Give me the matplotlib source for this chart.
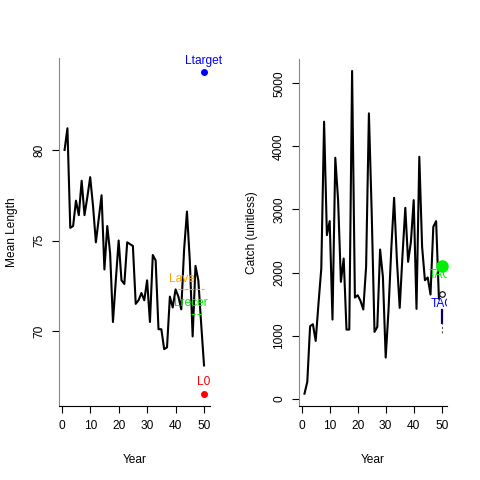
import numpy as np
import matplotlib
matplotlib.use('Agg')
import matplotlib.pyplot as plt

plt.rcParams['font.family'] = ['Liberation Sans', 'DejaVu Sans']

# ---- data ----
years = np.arange(1, 51)
mean_length = [80.0, 81.2, 75.7, 75.8, 77.2, 76.4, 78.3, 76.4, 77.4, 78.5,
               76.9, 74.9, 76.2, 77.5, 73.4, 75.8, 74.3, 70.5, 72.8, 75.0,
               72.8, 72.6, 74.9, 74.8, 74.7, 71.5, 71.7, 72.1, 71.7, 72.8,
               70.5, 74.2, 73.9, 70.1, 70.1, 69.0, 69.1, 71.9, 71.3, 72.3,
               71.9, 71.2, 74.5, 76.6, 73.9, 69.7, 73.6, 72.8, 70.4, 68.1]
ltarget = 84.3
l0 = 66.55
lave = 72.3
lrecer = 70.95

catch_years = np.arange(1, 50)
catch = [79, 265, 1148, 1180, 915, 1508, 2063, 4392, 2593, 2815,
         1254, 3820, 3148, 1852, 2222, 1095, 1095, 5196, 1603, 1640,
         1550, 1413, 2090, 4524, 2947, 1058, 1138, 2365, 1931, 651,
         1402, 2381, 3185, 2196, 1439, 2275, 3026, 2169, 2487, 3148,
         1423, 3836, 2407, 1878, 1921, 1651, 2725, 2815, 1587]
tac_green = 2110
tac_blue = 1660
tac_range = [1040, 1200, 1400]

W = 480
fig = plt.figure(figsize=(4.8, 4.8), dpi=100)
fs = 8.6

def style(ax):
    for s in ['top', 'right']:
        ax.spines[s].set_visible(False)
    ax.spines['left'].set_color('#888888')
    ax.spines['bottom'].set_color('black')
    ax.tick_params(direction='out', length=5, width=0.8, labelsize=fs,
                   colors='black', pad=5)
    ax.tick_params(axis='y', labelrotation=90)
    for lab in ax.get_yticklabels():
        lab.set_va('center')

# ---- left panel: mean length ----
ax1 = fig.add_axes([59 / W, 74 / W, 150.6 / W, 348 / W])
ax1.plot(years, mean_length, color='black', lw=1.5)
ax1.plot([50], [ltarget], 'o', color='blue', ms=4, clip_on=False)
ax1.text(50, ltarget + 0.3, 'Ltarget', color='blue', ha='center', va='bottom',
         fontsize=fs, clip_on=False)
ax1.plot([50], [l0], 'o', color='red', ms=4, clip_on=False)
ax1.text(50, l0 + 0.3, 'L0', color='red', ha='center', va='bottom', fontsize=fs)
ax1.plot([41, 50], [lave, lave], '--', color='orange', lw=0.8)
ax1.text(42.4, lave + 0.25, 'Lave', color='orange', ha='center', va='bottom',
         fontsize=fs)
ax1.plot([45.5, 49], [lrecer, lrecer], '--', color='#00ee00', lw=0.8)
ax1.text(45.5, lrecer + 0.25, 'Lrecer', color='#00ee00', ha='center',
         va='bottom', fontsize=fs)
ax1.set_xlim(-0.96, 51.96)
ax1.set_ylim(65.86, 85.08)
ax1.set_xticks([0, 10, 20, 30, 40, 50])
ax1.set_yticks([70, 75, 80])
style(ax1)
ax1.set_xlabel('Year', fontsize=fs, labelpad=16)
ax1.set_ylabel('Mean Length', fontsize=fs, labelpad=11)

# ---- right panel: catch ----
ax2 = fig.add_axes([299 / W, 74 / W, 148.2 / W, 347 / W])
ax2.plot(catch_years, catch, color='black', lw=1.5)
ax2.plot([50], [tac_green], 'o', color='#00ee00', ms=8, clip_on=False)
ax2.text(49.6, tac_green - 60, 'TAC', color='#00ee00', ha='center',
         va='top', fontsize=fs, clip_on=True)
ax2.plot([50], [tac_blue], 'o', mfc='white', mec='black', ms=4, mew=0.8,
         clip_on=False)
ax2.text(50.3, tac_blue - 70, 'TAC', color='blue', ha='center', va='top',
         fontsize=fs, clip_on=True)
ax2.plot([50, 50], [tac_range[1], tac_range[2]], color='#000066', lw=1.6)
ax2.plot([50, 50], [tac_range[0], tac_range[1]], '--', color='#555555',
         lw=0.8, dashes=(2, 2))
ax2.set_xlim(-0.96, 51.96)
ax2.set_ylim(-117, 5386)
ax2.set_xticks([0, 10, 20, 30, 40, 50])
ax2.set_yticks([0, 1000, 2000, 3000, 4000, 5000])
style(ax2)
ax2.set_xlabel('Year', fontsize=fs, labelpad=16)
ax2.set_ylabel('Catch (unitless)', fontsize=fs, labelpad=11)

fig.savefig('out.png', dpi=100)
